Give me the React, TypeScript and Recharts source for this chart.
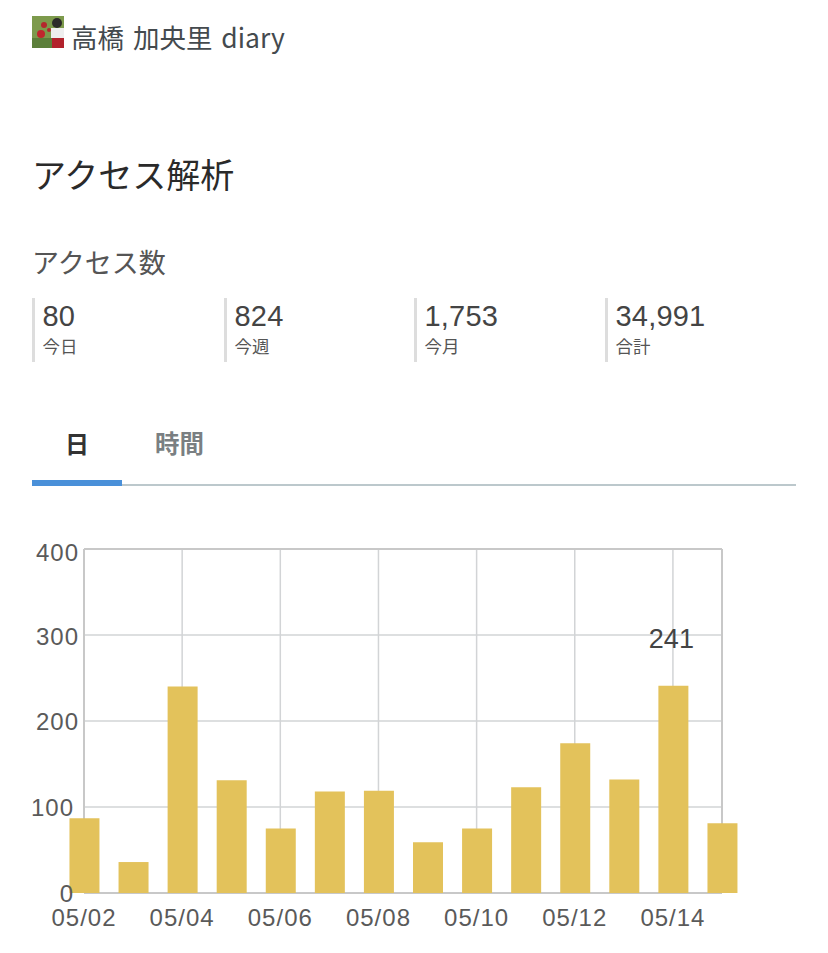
import { BarChart, Bar, XAxis, YAxis, CartesianGrid, LabelList } from 'recharts';

const days = [2, 3, 4, 5, 6, 7, 8, 9, 10, 11, 12, 13, 14, 15];
const accessCounts = [87, 36, 240, 131, 75, 118, 119, 59, 75, 123, 174, 132, 241, 81];
const peakLabels = ['', '', '', '', '', '', '', '', '', '', '', '', '241', ''];
const dayTicks = [2, 4, 6, 8, 10, 12, 14];
const countTicks = [0, 100, 200, 300, 400];

const statValues = ['80', '824', '1,753', '34,991'];
const statLabels = ['今日', '今週', '今月', '合計'];
const statLefts = [32, 224, 414, 605];

const chartData = days.map((day, i) => ({ day, count: accessCounts[i], label: peakLabels[i] }));

const JP = '"Noto Sans CJK JP", "Liberation Sans", sans-serif';
const NUM = '"Liberation Sans", "Noto Sans CJK JP", sans-serif';
const GRID = '#d2d4d6';
const FRAME = '#c8c8c8';

function text(left: number, top: number, size: number, color: string, extra = {}) {
  return {
    position: 'absolute' as const,
    left,
    top,
    fontSize: size,
    color,
    lineHeight: `${size + 10}px`,
    fontFamily: JP,
    whiteSpace: 'nowrap' as const,
    ...extra,
  };
}

function CountTick({ x, y, payload }: any) {
  const shift: Record<number, [number, number]> = { 0: [-2, 0], 100: [-2, 0], 200: [3, 0], 300: [3, 1], 400: [3, 3] };
  const [dx, dy] = shift[payload.value];
  return (
    <text x={x + dx} y={y + dy + 9} textAnchor="end" fontSize={24} fill="#5a5a5a" fontFamily={NUM} letterSpacing={1}>
      {payload.value}
    </text>
  );
}

function DayTick({ x, y, payload }: any) {
  return (
    <text x={x} y={y + 25} textAnchor="middle" fontSize={24} fill="#5a5a5a" fontFamily={NUM} letterSpacing={1}>
      {`05/${String(payload.value).padStart(2, '0')}`}
    </text>
  );
}

function Avatar() {
  return (
    <svg width={32} height={32} style={{ position: 'absolute', left: 32, top: 16 }}>
      <rect width={32} height={32} fill="#7d9a4c" />
      <rect x={0} y={22} width={20} height={10} fill="#5c7f3a" />
      <circle cx={9} cy={18} r={4} fill="#c0272d" />
      <circle cx={12} cy={9} r={3} fill="#b3282d" />
      <circle cx={17} cy={14} r={2} fill="#b3282d" />
      <rect x={19} y={12} width={13} height={10} fill="#eeeeee" />
      <rect x={20} y={22} width={12} height={10} fill="#b2222c" />
      <circle cx={25} cy={7} r={5} fill="#2c2a2a" />
    </svg>
  );
}

export default function App() {
  return (
    <div style={{ position: 'absolute', left: 0, top: 0, width: 828, height: 953, background: '#fff', overflow: 'hidden' }}>
      <Avatar />
      <div style={text(71, 19, 26.5, '#444a4e', { wordSpacing: 3 })}>高橋 加央里 diary</div>
      <div style={text(32, 152, 34, '#2a2a2a')}>アクセス解析</div>
      <div style={text(32, 243, 27, '#555')}>アクセス数</div>

      {statValues.map((value, i) => (
        <div key={value}>
          <div style={{ position: 'absolute', left: statLefts[i], top: 298, width: 3, height: 64, background: '#dddddd' }} />
          <div style={text(statLefts[i] + 10.5, 297, 29, '#444', { fontFamily: NUM, letterSpacing: 0.2 })}>{value}</div>
          <div style={text(statLefts[i] + 10.5, 332, 17.5, '#555')}>{statLabels[i]}</div>
        </div>
      ))}

      <div style={text(65, 426, 24, '#333', { fontWeight: 700 })}>日</div>
      <div style={text(155, 426, 24.5, '#7a7f82', { fontWeight: 700 })}>時間</div>
      <div style={{ position: 'absolute', left: 32, top: 484, width: 764, height: 2, background: '#bcc8cc' }} />
      <div style={{ position: 'absolute', left: 32, top: 480, width: 90, height: 6, background: '#4a90d9' }} />

      <div style={{ position: 'absolute', left: 0, top: 530 }}>
        <BarChart
          width={828}
          height={423}
          data={chartData}
          margin={{ top: 19, right: 106, bottom: 0, left: 0 }}
        >
          <CartesianGrid stroke={GRID} strokeWidth={1.5} />
          {/* second grid is the frame, it has to stay under the bars */}
          <CartesianGrid stroke={FRAME} strokeWidth={2} verticalValues={[2, 15]} horizontalValues={[0, 400]} />
          <XAxis
            dataKey="day"
            type="number"
            domain={[2, 15]}
            ticks={dayTicks}
            height={60}
            interval={0}
            tickLine={false}
            axisLine={false}
            tick={<DayTick />}
          />
          <YAxis
            domain={[0, 400]}
            ticks={countTicks}
            width={84}
            tickLine={false}
            axisLine={false}
            tick={<CountTick />}
          />
          <Bar dataKey="count" fill="#e3c25b" barSize={30} isAnimationActive={false}>
            <LabelList dataKey="label" position="top" offset={38} dx={-2} fontSize={27} fill="#444" fontFamily={NUM} />
          </Bar>
        </BarChart>
      </div>
    </div>
  );
}
